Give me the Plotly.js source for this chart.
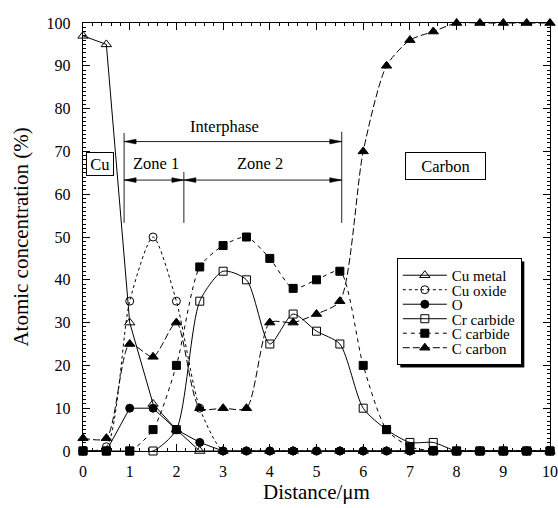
<!DOCTYPE html>
<html>
<head>
<meta charset="utf-8">
<script src="https://cdn.plot.ly/plotly-3.0.1.min.js"></script>
<style>
  html, body { margin: 0; padding: 0; background: #fff; }
  #chart { width: 558px; height: 508px; }
</style>
</head>
<body>
<div id="chart"></div>
<script>
// Depth profile across the Cu / interphase / carbon region
const distance = [0, 0.5, 1, 1.5, 2, 2.5, 3, 3.5, 4, 4.5, 5, 5.5, 6, 6.5, 7, 7.5, 8, 8.5, 9, 9.5, 10];

const cuMetal   = [97, 95, 30, 11, 5, 0, 0, 0, 0, 0, 0, 0, 0, 0, 0, 0, 0, 0, 0, 0, 0];
const cuOxide   = [0, 1, 35, 50, 35, 10, 0, 0, 0, 0, 0, 0, 0, 0, 0, 0, 0, 0, 0, 0, 0];
const oxygen    = [0, 0, 10, 10, 5, 2, 0, 0, 0, 0, 0, 0, 0, 0, 0, 0, 0, 0, 0, 0, 0];
const crCarbide = [0, 0, 0, 0, 5, 35, 42, 40, 25, 32, 28, 25, 10, 5, 2, 2, 0, 0, 0, 0, 0];
const cCarbide  = [0, 0, 0, 5, 20, 43, 48, 50, 45, 38, 40, 42, 20, 5, 1, 0, 0, 0, 0, 0, 0];
const cCarbon   = [3, 3, 25, 22, 30, 10, 10, 10, 30, 30, 32, 35, 70, 90, 96, 98, 100, 100, 100, 100, 100];

const seriesNames = ['Cu metal', 'Cu oxide', 'O', 'Cr carbide', 'C carbide', 'C carbon'];

const FONT = 'Liberation Serif, Times New Roman, serif';

function series(name, y, symbol, size, dash, shape) {
  return {
    type: 'scatter', mode: 'lines+markers', name: name,
    x: distance, y: y, cliponaxis: false,
    line: { color: 'black', width: 1, dash: dash, shape: shape, smoothing: 0.7 },
    marker: { symbol: symbol, size: size, color: 'black', line: { color: 'black', width: 1 } }
  };
}

const traces = [
  series(seriesNames[0], cuMetal,   'triangle-up-open', 9, 'solid', 'linear'),
  series(seriesNames[1], cuOxide,   'circle-open',      8, 'dot', 'spline'),
  series(seriesNames[2], oxygen,    'circle',           8, 'solid', 'linear'),
  series(seriesNames[3], crCarbide, 'square-open',      8, 'solid', 'spline'),
  series(seriesNames[4], cCarbide,  'square',           8, '4px,4px', 'spline'),
  series(seriesNames[5], cCarbon,   'triangle-up',      9, '7px,3px', 'spline')
];

// Plot area geometry (pixels)
const M = { l: 83, r: 8, t: 23, b: 57 };
const W = 558, H = 508;
const xs = (W - M.l - M.r) / 10;   // px per micron
const ys = (H - M.t - M.b) / 100;  // px per percent

// Zone markers
const xCuEdge = 0.88, xZone = 2.16, xCarbonEdge = 5.54;
const yInter = 72.3, yZone = 63.3;

function vline(x, y0, y1) {
  return { type: 'line', xref: 'x', yref: 'y', x0: x, x1: x, y0: y0, y1: y1,
           line: { color: '#222', width: 1 } };
}
function hline(x0, x1, y) {
  return { type: 'line', xref: 'x', yref: 'y', x0: x0, x1: x1, y0: y, y1: y,
           line: { color: '#222', width: 1 } };
}
function head(xTip, y, dir) {
  const L = 12 / xs, h = 2.4 / ys;
  const xb = xTip - dir * L;
  return { type: 'path', xref: 'x', yref: 'y',
           path: `M${xTip},${y} L${xb},${y + h} L${xb},${y - h} Z`,
           fillcolor: 'black', line: { color: 'black', width: 0.5 } };
}

const shapes = [
  vline(xCuEdge, 53.3, 74.3),
  vline(xZone, 53.3, 65.2),
  vline(xCarbonEdge, 53.3, 74.6),
  hline(xCuEdge, xCarbonEdge, yInter),
  hline(xCuEdge, xCarbonEdge, yZone),
  head(xCuEdge, yInter, -1), head(xCarbonEdge, yInter, 1),
  head(xCuEdge, yZone, -1), head(xZone, yZone, 1),
  head(xZone, yZone, -1), head(xCarbonEdge, yZone, 1)
];

const annFont = { family: FONT, size: 16.5, color: 'black' };
const annotations = [
  { x: 3.04, y: 75.8, xref: 'x', yref: 'y', text: 'Interphase', showarrow: false, font: annFont },
  { x: 1.57, y: 67.2, xref: 'x', yref: 'y', text: 'Zone 1', showarrow: false, font: annFont },
  { x: 3.78, y: 67.2, xref: 'x', yref: 'y', text: 'Zone 2', showarrow: false, font: annFont },
  { x: 0.36, y: 67.0, xref: 'x', yref: 'y', text: 'Cu', showarrow: false, font: annFont,
    bordercolor: 'black', borderwidth: 1, borderpad: 1, width: 24, height: 20 },
  { x: 7.76, y: 66.6, xref: 'x', yref: 'y', text: 'Carbon', showarrow: false, font: annFont,
    bordercolor: 'black', borderwidth: 1, borderpad: 1, width: 77, height: 24 }
];

const axisCommon = {
  showline: true, linecolor: 'black', linewidth: 1.2, mirror: 'ticks',
  ticks: 'inside', ticklen: 7, tickwidth: 1, tickcolor: 'black',
  showgrid: false, zeroline: false, automargin: false,
  tickfont: { family: FONT, size: 16, color: 'black' }
};

const layout = {
  width: W, height: H,
  margin: M,
  paper_bgcolor: 'white', plot_bgcolor: 'white',
  showlegend: true,
  legend: {
    x: 0.672, y: 0.451, xanchor: 'left', yanchor: 'top',
    bgcolor: 'white', bordercolor: 'black', borderwidth: 1,
    font: { family: FONT, size: 15, color: 'black' },
    itemwidth: 44, tracegroupgap: 0
  },
  xaxis: Object.assign({}, axisCommon, {
    range: [0, 10], dtick: 1, tick0: 0,
    minor: { dtick: 0.2, ticklen: 3, ticks: 'inside', tickcolor: 'black', showgrid: false },
    ticklabelstandoff: 6,
    title: { text: 'Distance/\u03bcm', font: { family: FONT, size: 21, color: 'black' }, standoff: 4 }
  }),
  yaxis: Object.assign({}, axisCommon, {
    range: [0, 100], dtick: 10, tick0: 0,
    minor: { dtick: 1, ticklen: 3, ticks: 'inside', tickcolor: 'black', showgrid: false },
    ticklabelstandoff: 8,
    title: { text: 'Atomic concentration (%)', font: { family: FONT, size: 21, color: 'black' }, standoff: 12 }
  }),
  shapes: shapes,
  annotations: annotations
};

// Tighten the legend rows and add a drop shadow behind the box
function finishLegend(gd) {
  const leg = gd.querySelector('.legend');
  if (!leg) return;
  const items = Array.from(leg.querySelectorAll('.traces'));
  const step = 14.5;
  const parse = el => {
    const m = /translate\(\s*([-\d.]+)[ ,]+([-\d.]+)/.exec(el.getAttribute('transform') || '');
    return m ? [parseFloat(m[1]), parseFloat(m[2])] : [0, 0];
  };
  let shrink = 0;
  if (items.length > 1) {
    const p0 = parse(items[0]);
    const oldStep = parse(items[1])[1] - p0[1];
    items.forEach((it, i) => {
      const p = parse(it);
      it.setAttribute('transform', `translate(${p[0]},${p0[1] + i * step})`);
    });
    shrink = (oldStep - step) * (items.length - 1);
  }
  const bg = leg.querySelector('.bg');
  const hOld = parseFloat(bg.getAttribute('height'));
  bg.setAttribute('height', hOld - shrink);
  leg.querySelectorAll('clipPath rect, .scrollbox').forEach(el => {
    if (el.hasAttribute('height')) el.setAttribute('height', parseFloat(el.getAttribute('height')) - shrink);
  });
  const defsRects = gd.querySelectorAll('defs clipPath[id*="legend"] rect');
  defsRects.forEach(el => el.setAttribute('height', parseFloat(el.getAttribute('height')) - shrink));

  const r = bg.getBoundingClientRect();
  const c = gd.getBoundingClientRect();
  const off = 3;
  const ns = 'http://www.w3.org/2000/svg';
  const shadow = document.createElementNS(ns, 'rect');
  shadow.setAttribute('x', r.left - c.left + off);
  shadow.setAttribute('y', r.top - c.top + off);
  shadow.setAttribute('width', r.width);
  shadow.setAttribute('height', r.height);
  shadow.setAttribute('fill', 'black');
  // shadow sits just below the legend group
  leg.parentNode.insertBefore(shadow, leg);
}

Plotly.newPlot('chart', traces, layout, { staticPlot: true, displayModeBar: false }).then(finishLegend);
</script>
</body>
</html>
